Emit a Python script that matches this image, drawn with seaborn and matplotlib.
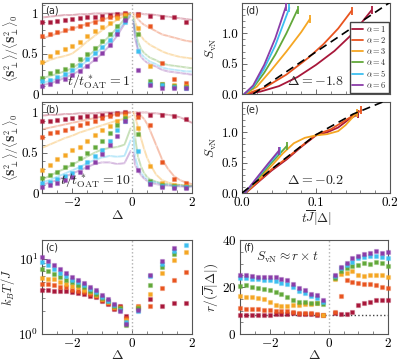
import numpy as np
import pandas as pd
import matplotlib
matplotlib.use("Agg")
import matplotlib.pyplot as plt
import matplotlib.colors as mcolors
from matplotlib.ticker import MultipleLocator
import seaborn as sns

# ---------------- data ----------------
alphas = [1, 2, 3, 4, 5, 6]
colors = ["#a8173a", "#e8541f", "#f5a623", "#62a83a", "#3dbff0", "#8b3da8"]

# panels (a), (b): markers
delta_ab_L = [-3.0, -2.75, -2.5, -2.25, -2.0, -1.75, -1.5, -1.25, -1.0, -0.75, -0.5, -0.25]
delta_ab_R = [0.2, 0.6, 1.0, 1.4, 1.8]
# faded lines
line_L = [-3.0, -2.75, -2.5, -2.25, -2.0, -1.75, -1.5, -1.25, -1.0, -0.75, -0.5, -0.25, -0.05]
line_R = [0.05, 0.1, 0.2, 0.3, 0.4, 0.5, 0.6, 0.8, 1.0, 1.2, 1.4, 1.6, 1.8, 2.0]

a_mark_L = [
    [0.89, 0.90, 0.91, 0.92, 0.93, 0.94, 0.95, 0.96, 0.97, 0.98, 0.99, 1.00],
    [0.72, 0.75, 0.77, 0.79, 0.82, 0.85, 0.87, 0.90, 0.93, 0.95, 0.97, 0.99],
    [0.40, 0.47, 0.52, 0.56, 0.60, 0.65, 0.72, 0.78, 0.83, 0.88, 0.94, 0.98],
    [0.20, 0.26, 0.29, 0.31, 0.36, 0.43, 0.50, 0.57, 0.66, 0.74, 0.84, 0.94],
    [0.16, 0.18, 0.21, 0.25, 0.30, 0.36, 0.43, 0.51, 0.58, 0.67, 0.78, 0.90],
    [0.10, 0.12, 0.16, 0.19, 0.24, 0.29, 0.35, 0.43, 0.51, 0.61, 0.74, 0.92],
]
a_mark_R = [
    [0.99, 0.97, 0.96, 0.95, 0.90],
    [0.98, 0.85, 0.39, 0.19, 0.14],
    [0.82, 0.35, 0.13, 0.11, 0.10],
    [0.74, 0.16, 0.12, 0.10, 0.09],
    [0.54, 0.13, 0.11, 0.09, 0.08],
    [0.30, 0.11, 0.08, 0.07, 0.07],
]
a_line_L = [
    [0.95, 0.96, 0.97, 0.98, 0.98, 0.99, 0.99, 1.00, 1.00, 1.00, 1.00, 1.00, 1.00],
    [0.69, 0.72, 0.75, 0.78, 0.81, 0.84, 0.87, 0.90, 0.92, 0.95, 0.97, 0.99, 1.00],
    [0.38, 0.42, 0.45, 0.47, 0.50, 0.57, 0.65, 0.72, 0.79, 0.86, 0.92, 0.97, 1.00],
    [0.20, 0.22, 0.25, 0.28, 0.32, 0.38, 0.46, 0.54, 0.63, 0.72, 0.82, 0.93, 1.00],
    [0.14, 0.16, 0.19, 0.23, 0.28, 0.34, 0.41, 0.49, 0.57, 0.66, 0.77, 0.89, 0.98],
    [0.11, 0.13, 0.16, 0.20, 0.24, 0.29, 0.35, 0.42, 0.50, 0.60, 0.72, 0.87, 0.97],
]
a_line_R = [
    [1.00, 1.00, 1.00, 1.00, 0.99, 0.99, 0.99, 0.98, 0.97, 0.96, 0.95, 0.94, 0.93, 0.92],
    [1.00, 0.97, 0.93, 0.89, 0.86, 0.84, 0.82, 0.78, 0.74, 0.72, 0.70, 0.68, 0.66, 0.65],
    [0.98, 0.90, 0.80, 0.72, 0.67, 0.64, 0.61, 0.57, 0.53, 0.50, 0.48, 0.46, 0.45, 0.44],
    [0.95, 0.80, 0.65, 0.56, 0.51, 0.48, 0.45, 0.42, 0.38, 0.36, 0.35, 0.34, 0.33, 0.32],
    [0.92, 0.75, 0.58, 0.50, 0.46, 0.43, 0.40, 0.37, 0.33, 0.31, 0.30, 0.29, 0.28, 0.28],
    [0.90, 0.70, 0.54, 0.46, 0.42, 0.39, 0.37, 0.34, 0.30, 0.28, 0.27, 0.26, 0.25, 0.24],
]

b_mark_L = [
    [0.89, 0.90, 0.91, 0.92, 0.93, 0.94, 0.95, 0.96, 0.97, 0.98, 0.99, 1.00],
    [0.70, 0.74, 0.76, 0.78, 0.81, 0.84, 0.87, 0.90, 0.93, 0.96, 0.98, 0.99],
    [0.28, 0.35, 0.42, 0.47, 0.53, 0.57, 0.65, 0.72, 0.78, 0.83, 0.89, 0.95],
    [0.19, 0.22, 0.26, 0.32, 0.36, 0.44, 0.50, 0.57, 0.65, 0.74, 0.84, 0.93],
    [0.13, 0.14, 0.17, 0.21, 0.25, 0.32, 0.38, 0.46, 0.54, 0.65, 0.78, 0.90],
    [0.07, 0.10, 0.13, 0.16, 0.20, 0.26, 0.32, 0.39, 0.48, 0.59, 0.71, 0.89],
]
b_mark_R = [
    [0.98, 0.97, 0.97, 0.95, 0.92],
    [0.94, 0.84, 0.39, 0.18, 0.12],
    [0.81, 0.34, 0.12, 0.10, 0.09],
    [0.73, 0.15, 0.10, 0.09, 0.08],
    [0.52, 0.13, 0.09, 0.08, 0.07],
    [0.29, 0.11, 0.07, 0.06, 0.06],
]
b_line_L = [
    [0.96, 0.97, 0.97, 0.98, 0.98, 0.99, 0.99, 0.99, 1.00, 1.00, 1.00, 1.00, 1.00],
    [0.79, 0.81, 0.83, 0.85, 0.87, 0.89, 0.91, 0.93, 0.95, 0.96, 0.98, 0.99, 1.00],
    [0.56, 0.60, 0.64, 0.68, 0.71, 0.75, 0.78, 0.81, 0.84, 0.87, 0.90, 0.92, 0.95],
    [0.17, 0.21, 0.26, 0.30, 0.35, 0.40, 0.45, 0.50, 0.54, 0.56, 0.57, 0.60, 0.80],
    [0.13, 0.16, 0.20, 0.24, 0.28, 0.32, 0.37, 0.41, 0.44, 0.46, 0.45, 0.46, 0.65],
    [0.10, 0.13, 0.16, 0.20, 0.24, 0.28, 0.32, 0.36, 0.38, 0.38, 0.36, 0.37, 0.52],
]
b_line_R = [
    [1.00, 1.00, 1.00, 1.00, 1.00, 1.00, 0.99, 0.99, 0.98, 0.97, 0.96, 0.94, 0.91, 0.87],
    [1.00, 1.00, 0.99, 0.96, 0.92, 0.86, 0.78, 0.60, 0.42, 0.30, 0.21, 0.16, 0.13, 0.11],
    [1.00, 0.95, 0.82, 0.68, 0.55, 0.44, 0.36, 0.23, 0.16, 0.13, 0.11, 0.10, 0.09, 0.09],
    [0.90, 0.70, 0.45, 0.33, 0.25, 0.20, 0.17, 0.14, 0.12, 0.11, 0.10, 0.10, 0.09, 0.09],
    [0.70, 0.45, 0.32, 0.25, 0.20, 0.17, 0.15, 0.13, 0.11, 0.10, 0.09, 0.09, 0.08, 0.08],
    [0.50, 0.35, 0.28, 0.22, 0.18, 0.15, 0.13, 0.11, 0.10, 0.09, 0.09, 0.08, 0.08, 0.08],
]

# panels (c), (f)
delta_cf_L = [-3.0, -2.8, -2.6, -2.4, -2.2, -2.0, -1.8, -1.6, -1.4, -1.2, -1.0, -0.8, -0.6, -0.4, -0.2]
delta_c_R = [0.2, 0.6, 1.0, 1.4, 1.8]
delta_f_R = [0.2, 0.4, 0.6, 0.8, 1.0, 1.2, 1.4, 1.6, 1.8, 2.0]

kT_L = [
    [3.9, 3.9, 3.8, 3.8, 3.7, 3.6, 3.5, 3.4, 3.2, 3.1, 2.76, 2.5, 2.15, 2.35, 1.72],
    [4.6, 4.6, 4.5, 4.3, 4.2, 3.9, 3.8, 3.6, 3.4, 3.2, 2.85, 2.57, 2.22, 2.30, 1.62],
    [5.6, 5.5, 5.4, 5.0, 4.7, 4.4, 4.2, 3.9, 3.6, 3.3, 2.94, 2.64, 2.29, 2.25, 1.52],
    [7.3, 6.9, 6.3, 5.8, 5.3, 4.9, 4.5, 4.2, 3.8, 3.4, 3.0, 2.72, 2.37, 2.20, 1.32],
    [9.2, 8.3, 7.4, 6.6, 6.0, 5.3, 4.9, 4.5, 4.0, 3.6, 3.15, 2.8, 2.44, 2.12, 1.45],
    [10.7, 9.5, 8.3, 7.3, 6.6, 5.8, 5.2, 4.8, 4.3, 3.9, 3.3, 2.94, 2.52, 2.05, 1.38],
]
kT_R = [
    [2.2, 2.9, 2.34, 2.6, 2.6],
    [2.38, 2.4, 4.1, 5.2, 6.8],
    [2.3, 3.4, 6.5, 9.7, 12.3],
    [2.2, 4.5, 7.9, 11.7, np.nan],
    [2.0, 5.9, 8.6, 12.9, 15.6],
    [2.1, 6.1, 9.5, 14.1, np.nan],
]

rate_L = [
    [7.9, 7.9, 8.0, 8.0, 8.1, 8.2, 8.4, 8.6, 8.6, 8.8, 8.6, 8.5, 8.3, 8.1, 7.9],
    [11.0, 10.7, 10.6, 10.6, 10.3, 10.3, 10.0, 9.7, 9.6, 9.4, 9.1, 9.1, 8.8, 8.6, 8.2],
    [16.1, 15.8, 15.6, 15.4, 15.1, 13.8, 12.4, 12.0, 12.1, 12.4, 12.4, 12.6, 12.9, 13.2, 8.0],
    [20.4, 20.7, 20.0, 19.7, 19.3, 18.6, 17.9, 17.0, 15.8, 14.4, 13.8, 13.5, 13.1, 13.1, 12.8],
    [24.0, 23.8, 23.4, 23.2, 23.0, 22.8, 22.4, 21.8, 21.2, 20.0, 18.5, 17.4, 16.3, 15.2, 13.8],
    [25.3, 25.1, 24.6, 24.4, 24.4, 24.2, 24.2, 23.5, 23.1, 21.4, 19.7, 18.6, 17.2, 16.5, 14.6],
]
rate_R = [
    [9.0, 8.6, 8.6, 9.3, 12.2, 13.2, 13.8, 14.5, 14.6, 14.6],
    [9.3, 16.3, 22.9, 22.2, 21.5, 21.1, 21.1, 20.8, 20.1, 19.7],
    [23.2, 25.7, 26.0, 26.7, 25.3, 24.6, 24.9, 25.0, 25.0, 24.2],
    [23.9, 26.7, 28.1, 28.8, 29.4, 30.1, 29.8, 30.8, 30.1, 28.8],
    [24.6, 28.1, 29.4, 30.8, 32.2, 32.9, 33.2, 33.2, 32.6, 32.5],
    [25.3, 28.7, 30.1, 32.2, 33.2, 34.0, 34.6, 35.4, 34.3, 34.7],
]
rate_ref = 8.2

# panels (d), (e): entanglement entropy vs t J |Delta|
d_x = [
    [0.005, 0.025, 0.05, 0.075, 0.1, 0.125, 0.15, 0.175],
    [0.005, 0.03, 0.06, 0.09, 0.11, 0.13, 0.148],
    [0.004, 0.02, 0.04, 0.06, 0.08, 0.092],
    [0.003, 0.015, 0.03, 0.045, 0.06, 0.075],
    [0.003, 0.015, 0.03, 0.045, 0.064],
    [0.003, 0.015, 0.03, 0.045, 0.059],
]
d_y = [
    [0.0, 0.04, 0.13, 0.28, 0.48, 0.71, 1.0, 1.38],
    [0.0, 0.10, 0.32, 0.60, 0.82, 1.08, 1.37],
    [0.0, 0.12, 0.40, 0.70, 1.02, 1.24],
    [0.0, 0.10, 0.35, 0.65, 1.0, 1.39],
    [0.0, 0.12, 0.42, 0.80, 1.42],
    [0.0, 0.14, 0.48, 0.92, 1.43],
]
d_fit_x = [0.015, 0.2]
d_fit_y = [0.0, 1.51]

e_x = [
    [0.005, 0.02, 0.04, 0.06, 0.08, 0.1, 0.115, 0.13, 0.145, 0.157],
    [0.005, 0.02, 0.04, 0.06, 0.08, 0.1, 0.12, 0.14, 0.161],
    [0.004, 0.02, 0.04, 0.055, 0.07, 0.085, 0.1, 0.115, 0.13, 0.14, 0.155],
    [0.004, 0.02, 0.04, 0.061],
    [0.004, 0.02, 0.035, 0.052],
    [0.004, 0.02, 0.035, 0.050],
]
e_y = [
    [0.0, 0.16, 0.37, 0.55, 0.76, 0.95, 1.0, 1.08, 1.22, 1.30],
    [0.0, 0.17, 0.39, 0.57, 0.77, 0.96, 1.05, 1.20, 1.36],
    [0.0, 0.20, 0.45, 0.65, 0.82, 0.91, 0.95, 0.97, 1.02, 1.12, 1.32],
    [0.0, 0.22, 0.50, 0.78],
    [0.0, 0.24, 0.46, 0.70],
    [0.0, 0.25, 0.48, 0.70],
]
e_fit_x = [0.0, 0.05, 0.1, 0.15, 0.2]
e_fit_y = [0.0, 0.49, 0.96, 1.30, 1.55]

# ---------------- style ----------------
sns.set_theme(style="ticks")
plt.rcParams.update({
    "font.family": "serif",
    "font.serif": ["cmr10", "DejaVu Serif"],
    "mathtext.fontset": "cm",
    "axes.unicode_minus": False,
    "axes.formatter.use_mathtext": True,
    "font.size": 9.5,
    "axes.edgecolor": "#555555",
    "axes.linewidth": 0.8,
    "xtick.color": "#555555",
    "ytick.color": "#555555",
    "xtick.labelcolor": "black",
    "ytick.labelcolor": "black",
    "xtick.direction": "in",
    "ytick.direction": "in",
    "xtick.labelsize": 9.5,
    "ytick.labelsize": 9.5,
    "xtick.major.pad": 2.5,
    "ytick.major.pad": 2.5,
})

fig = plt.figure(figsize=(3.99, 3.63), dpi=100)
W, H = 399.0, 363.0


def add_ax(x0, y0, x1, y1):
    return fig.add_axes([x0 / W, 1 - y1 / H, (x1 - x0) / W, (y1 - y0) / H])


ax_a = add_ax(42, 3, 192, 94)
ax_b = add_ax(42, 102, 192, 193)
ax_c = add_ax(42, 240, 192, 334)
ax_d = add_ax(242, 3, 390, 94)
ax_e = add_ax(242, 102, 390, 193)
ax_f = add_ax(240, 240, 388, 334)


def light(c, a=0.35):
    return mcolors.to_rgba(c, a)


def markers(ax, x, ys, s=8):
    for y, c in zip(ys, colors):
        sns.scatterplot(x=x, y=y, color=c, marker="s", s=s, edgecolor=light(c, 0.25),
                        linewidth=0.9, ax=ax, legend=False, zorder=4, clip_on=False)


def faded(ax, x, ys):
    for y, c in zip(ys, colors):
        sns.lineplot(x=x, y=y, color=c, alpha=0.35, lw=1.4, ax=ax, estimator=None,
                     sort=False, marker="+", markersize=2.5, mew=0.6, zorder=2)


def delta_axis(ax, show_labels=True):
    ax.set_xlim(-3, 2)
    ax.set_xticks([-2, 0, 2])
    ax.xaxis.set_minor_locator(MultipleLocator(0.5))
    ax.axvline(0, color="#b0b0b0", ls=":", lw=1.0, zorder=1)
    if not show_labels:
        ax.set_xticklabels([])
    ax.tick_params(which="major", length=3.5, width=0.6, top=False, right=False)
    ax.tick_params(which="minor", length=2.0, width=0.5, top=False, right=False)


# (a) and (b)
for ax, mL, mR, lL, lR, tag, tlabel in [
    (ax_a, a_mark_L, a_mark_R, a_line_L, a_line_R, "(a)", r"$t/t^*_{\rm OAT}=1$"),
    (ax_b, b_mark_L, b_mark_R, b_line_L, b_line_R, "(b)", r"$t/t^*_{\rm OAT}=10$"),
]:
    faded(ax, line_L, lL)
    faded(ax, line_R, lR)
    markers(ax, delta_ab_L, mL)
    markers(ax, delta_ab_R, mR)
    ax.set_ylim(0, 1.13)
    ax.set_yticks([0, 0.5, 1])
    ax.set_yticklabels(["0", "0.5", "1"])
    ax.yaxis.set_minor_locator(MultipleLocator(0.1))
    delta_axis(ax, show_labels=(ax is ax_b))
    ax.set_ylabel(r"$\langle \mathbf{S}_\perp^2\rangle/\langle \mathbf{S}_\perp^2\rangle_0$",
                  fontsize=8.5, labelpad=1)
    ax.text(0.02, 0.97, tag, transform=ax.transAxes, ha="left", va="top",
            fontsize=7, family="DejaVu Sans")
    ax.text(0.59, 0.03, tlabel, transform=ax.transAxes, ha="right", va="bottom",
            fontsize=10, zorder=6)
ax_a.set_xlabel("")
ax_b.set_xlabel(r"$\Delta$", fontsize=10, labelpad=0)

# (c)
markers(ax_c, delta_cf_L, kT_L)
markers(ax_c, delta_c_R, kT_R)
ax_c.set_yscale("log")
ax_c.set_ylim(1, 18)
delta_axis(ax_c)
ax_c.tick_params(axis="y", which="minor", length=2.0, width=0.5)
ax_c.set_ylabel(r"$k_BT/\overline{J}$", fontsize=9, labelpad=0)
ax_c.set_xlabel(r"$\Delta$", fontsize=10, labelpad=-1)
ax_c.text(0.02, 0.97, "(c)", transform=ax_c.transAxes, ha="left", va="top",
          fontsize=7, family="DejaVu Sans")

# (f)
ax_f.axhline(rate_ref, color="#444444", ls=":", lw=1.0, zorder=1)
markers(ax_f, delta_cf_L, rate_L)
markers(ax_f, delta_f_R, rate_R)
ax_f.set_ylim(0, 40)
ax_f.set_yticks([0, 20, 40])
ax_f.yaxis.set_minor_locator(MultipleLocator(5))
delta_axis(ax_f)
ax_f.set_ylabel(r"$r/(\overline{J}|\Delta|)$", fontsize=9.5, labelpad=1)
ax_f.set_xlabel(r"$\Delta$", fontsize=10, labelpad=-1)
ax_f.text(0.02, 0.97, "(f)", transform=ax_f.transAxes, ha="left", va="top",
          fontsize=7, family="DejaVu Sans")
ax_f.text(0.32, 0.82, r"$S_{\rm vN}\approx r\times t$", transform=ax_f.transAxes,
          ha="center", va="center", fontsize=9.5)

# (d) and (e)
for ax, xs, ys, fx, fy, tag, dlabel in [
    (ax_d, d_x, d_y, d_fit_x, d_fit_y, "(d)", r"$\Delta=-1.8$"),
    (ax_e, e_x, e_y, e_fit_x, e_fit_y, "(e)", r"$\Delta=-0.2$"),
]:
    for x, y, c, a in zip(xs, ys, colors, alphas):
        sns.lineplot(x=x, y=y, color=c, lw=1.3, ax=ax, estimator=None, sort=False,
                     label=rf"$\alpha={a}$", zorder=3)
        ax.plot(x[-1], y[-1], marker="|", ms=6, mew=1.3, color=c, zorder=3)
    ax.plot(fx, fy, color="black", ls=(0, (5, 3)), lw=1.2, zorder=4)
    ax.set_xlim(0, 0.2)
    ax.set_ylim(0, 1.5)
    ax.set_xticks([0, 0.1, 0.2])
    ax.set_yticks([0, 0.5, 1.0])
    ax.set_yticklabels(["0.0", "0.5", "1.0"])
    ax.xaxis.set_minor_locator(MultipleLocator(0.02))
    ax.yaxis.set_minor_locator(MultipleLocator(0.1))
    ax.tick_params(which="major", length=3.5, width=0.6)
    ax.tick_params(which="minor", length=2.0, width=0.5)
    ax.set_ylabel(r"$S_{\rm vN}$", fontsize=9.5, labelpad=2)
    ax.text(0.02, 0.97, tag, transform=ax.transAxes, ha="left", va="top",
            fontsize=7, family="DejaVu Sans")
    ax.text(0.5, 0.14, dlabel, transform=ax.transAxes, ha="center", va="center", fontsize=10)

ax_d.set_xticklabels([])
ax_d.set_xlabel("")
ax_e.set_xticklabels(["0.0", "0.1", "0.2"])
ax_e.set_xlabel(r"$t\overline{J}|\Delta|$", fontsize=9.5, labelpad=0)
ax_e.get_legend().remove()
ax_d.legend(loc="lower right", fontsize=6, handlelength=1.3, handletextpad=0.3,
            labelspacing=0.12, borderpad=0.3, borderaxespad=0.15, fancybox=False,
            edgecolor="#444444", framealpha=1)

fig.savefig("out.png", dpi=100)
